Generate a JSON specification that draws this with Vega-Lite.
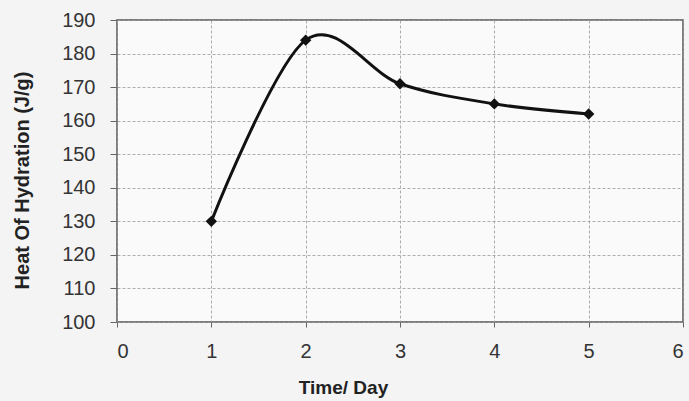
{
  "$schema": "https://vega.github.io/schema/vega-lite/v6.json",
  "width": 566,
  "height": 302,
  "autosize": {"type": "none"},
  "padding": {"left": 117, "top": 20, "right": 6, "bottom": 79},
  "background": "#f4f4f4",
  "config": {
    "view": {"stroke": "#555555", "strokeWidth": 1.5, "fill": "#fafafa"},
    "font": "Liberation Sans"
  },
  "data": {
    "values": [
      {"day": 1, "heat": 130},
      {"day": 2, "heat": 184},
      {"day": 3, "heat": 171},
      {"day": 4, "heat": 165},
      {"day": 5, "heat": 162}
    ]
  },
  "encoding": {
    "x": {
      "field": "day", "type": "quantitative",
      "scale": {"domain": [0, 6], "nice": false},
      "axis": {
        "title": "Time/ Day", "values": [0, 1, 2, 3, 4, 5, 6],
        "labelFontSize": 20, "labelColor": "#333333", "labelPadding": 14,
        "titleFontSize": 19, "titleFontWeight": "bold", "titleColor": "#222222",
        "titleX": 226, "titlePadding": 17,
        "grid": true, "gridDash": [3, 2], "gridColor": "#999999", "gridWidth": 0.8,
        "domain": false, "tickColor": "#666666", "tickSize": 5
      }
    },
    "y": {
      "field": "heat", "type": "quantitative",
      "scale": {"domain": [100, 190], "nice": false, "zero": false},
      "axis": {
        "title": "Heat Of Hydration (J/g)", "values": [100, 110, 120, 130, 140, 150, 160, 170, 180, 190],
        "labelFontSize": 20, "labelColor": "#333333", "labelPadding": 15,
        "titleFontSize": 20, "titleFontWeight": "bold", "titleColor": "#222222",
        "titlePadding": 29, "titleY": 160,
        "grid": true, "gridDash": [3, 2], "gridColor": "#999999", "gridWidth": 0.8,
        "domain": false, "tickColor": "#666666", "tickSize": 7
      }
    }
  },
  "layer": [
    {"mark": {"type": "line", "interpolate": "cardinal", "color": "#111111", "strokeWidth": 3}},
    {"mark": {"type": "point", "shape": "diamond", "filled": true, "color": "#111111", "size": 130, "opacity": 1}}
  ]
}
